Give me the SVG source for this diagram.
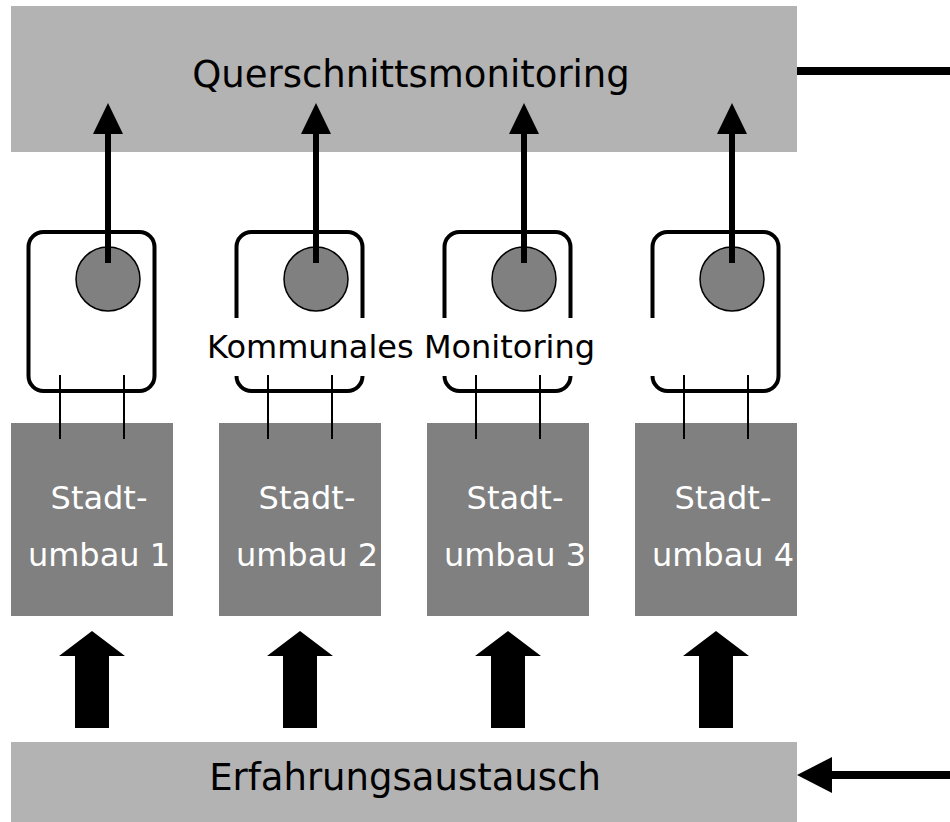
<svg xmlns="http://www.w3.org/2000/svg" width="950" height="822" viewBox="0 0 950 822">
<style>
.band{fill:#b3b3b3}
.su{fill:#808080}
.t{font-family:"DejaVu Sans",Verdana,sans-serif;text-anchor:middle}
.big{font-size:37px;fill:#000}
.lbl{font-size:32px;fill:#fff}
.km{font-size:32px;fill:#000}
.frame{fill:none;stroke:#000;stroke-width:4;stroke-linecap:butt}
.thin{stroke:#000;stroke-width:2}
.dot{fill:#808080;stroke:#000;stroke-width:1.5}
.conn{stroke:#000;stroke-width:6;fill:none}
.head{fill:#000}
</style>
<rect width="950" height="822" fill="#fff"/>
<g id="querschnitt">
<rect class="band" x="11" y="6" width="786" height="146"/>
<text class="t big" x="411" y="87">Querschnittsmonitoring</text>
</g>
<g id="erfahrung">
<rect class="band" x="11" y="742" width="786" height="80"/>
<text class="t big" x="405" y="790">Erfahrungsaustausch</text>
</g>
<g id="su1"><rect class="su" x="11" y="423" width="162" height="193"/><text class="t lbl" x="99" y="509">Stadt-</text><text class="t lbl" x="99" y="566">umbau 1</text></g>
<g id="su2"><rect class="su" x="219" y="423" width="162" height="193"/><text class="t lbl" x="307" y="509">Stadt-</text><text class="t lbl" x="307" y="566">umbau 2</text></g>
<g id="su3"><rect class="su" x="427" y="423" width="162" height="193"/><text class="t lbl" x="515" y="509">Stadt-</text><text class="t lbl" x="515" y="566">umbau 3</text></g>
<g id="su4"><rect class="su" x="635" y="423" width="162" height="193"/><text class="t lbl" x="723" y="509">Stadt-</text><text class="t lbl" x="723" y="566">umbau 4</text></g>
<g id="km1">
<rect class="frame" x="28.5" y="232" width="126" height="159" rx="15"/>
<line class="thin" x1="60" y1="375" x2="60" y2="439"/><line class="thin" x1="124" y1="375" x2="124" y2="439"/>
<circle class="dot" cx="108" cy="279" r="32"/>
</g>
<g id="km2">
<path class="frame" d="M236.5,318 V247 A15,15 0 0 1 251.5,232 H347.5 A15,15 0 0 1 362.5,247 V318"/>
<path class="frame" d="M236.5,376 A15,15 0 0 0 251.5,391 H347.5 A15,15 0 0 0 362.5,376"/>
<line class="thin" x1="268" y1="375" x2="268" y2="439"/><line class="thin" x1="332" y1="375" x2="332" y2="439"/>
<circle class="dot" cx="316" cy="279" r="32"/>
</g>
<g id="km3">
<path class="frame" d="M444.5,318 V247 A15,15 0 0 1 459.5,232 H555.5 A15,15 0 0 1 570.5,247 V318"/>
<path class="frame" d="M444.5,376 A15,15 0 0 0 459.5,391 H555.5 A15,15 0 0 0 570.5,376"/>
<line class="thin" x1="476" y1="375" x2="476" y2="439"/><line class="thin" x1="540" y1="375" x2="540" y2="439"/>
<circle class="dot" cx="524" cy="279" r="32"/>
</g>
<g id="km4">
<path class="frame" d="M652.5,318 V247 A15,15 0 0 1 667.5,232 H763.5 A15,15 0 0 1 778.5,247 V376 A15,15 0 0 1 763.5,391 H667.5 A15,15 0 0 1 652.5,376"/>
<line class="thin" x1="684" y1="375" x2="684" y2="439"/><line class="thin" x1="748" y1="375" x2="748" y2="439"/>
<circle class="dot" cx="732" cy="279" r="32"/>
</g>
<g id="km-label"><text class="t km" x="401" y="358">Kommunales Monitoring</text></g>
<g id="connectors">
<line class="conn" x1="108" y1="263" x2="108" y2="132"/><polygon class="head" points="108,103 93,134 123,134"/>
<line class="conn" x1="316" y1="263" x2="316" y2="132"/><polygon class="head" points="316,103 301,134 331,134"/>
<line class="conn" x1="524" y1="263" x2="524" y2="132"/><polygon class="head" points="524,103 509,134 539,134"/>
<line class="conn" x1="732" y1="263" x2="732" y2="132"/><polygon class="head" points="732,103 717,134 747,134"/>
<polygon class="head" points="92,631 59,656 75,656 75,728 109,728 109,656 125,656"/>
<polygon class="head" points="300,631 267,656 283,656 283,728 317,728 317,656 333,656"/>
<polygon class="head" points="508,631 475,656 491,656 491,728 525,728 525,656 541,656"/>
<polygon class="head" points="716,631 683,656 699,656 699,728 733,728 733,656 749,656"/>
<line x1="797" y1="71" x2="950" y2="71" stroke="#000" stroke-width="8"/>
<line x1="828" y1="775" x2="950" y2="775" stroke="#000" stroke-width="8"/>
<polygon class="head" points="797,775 832,757 832,793"/>
</g>
</svg>
